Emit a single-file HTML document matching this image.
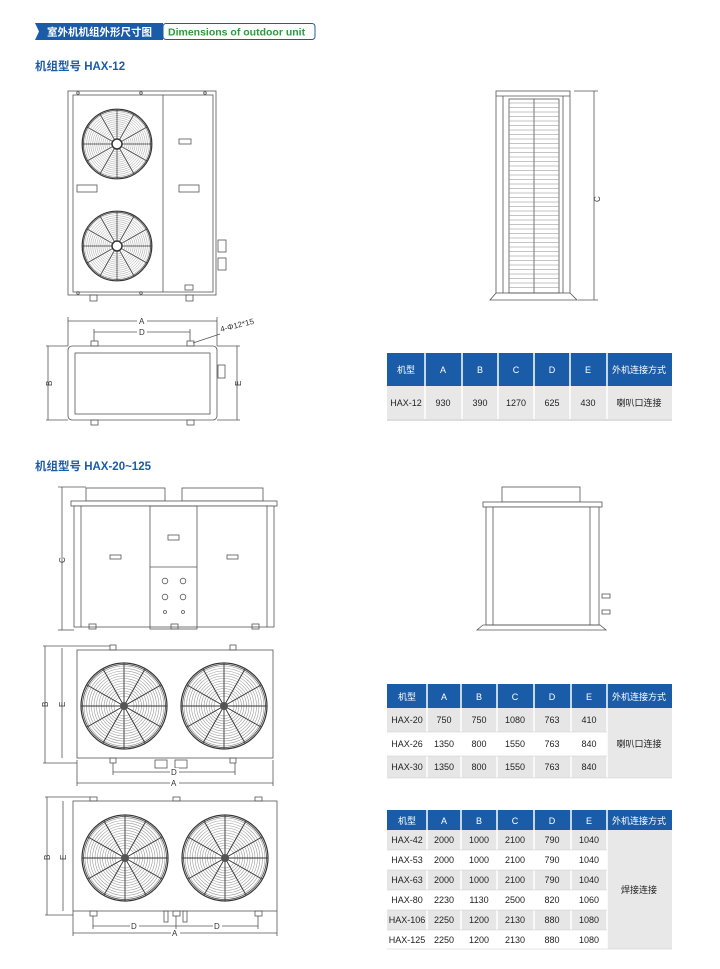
<!DOCTYPE html>
<html><head><meta charset="utf-8"><style>
html,body{margin:0;padding:0;background:#fff}
svg{display:block}
text{font-family:"Liberation Sans","Noto Sans CJK SC",sans-serif}
</style></head><body>
<svg width="720" height="969" viewBox="0 0 720 969" xmlns="http://www.w3.org/2000/svg">
<defs>
<g id="fan">
 <circle r="43" fill="#fff" stroke="#333" stroke-width="1.2" vector-effect="non-scaling-stroke"/>
 <g fill="none" stroke="#9a9a9a" stroke-width="0.6" vector-effect="non-scaling-stroke">
  <circle r="40"/><circle r="37.5"/><circle r="35"/><circle r="32.5"/><circle r="30"/><circle r="27.5"/><circle r="25"/><circle r="22.5"/><circle r="20"/><circle r="17.5"/><circle r="15"/><circle r="12.5"/><circle r="10"/>
 </g>
 <g stroke="#333" stroke-width="0.9" vector-effect="non-scaling-stroke">
  <line x1="0" y1="-43" x2="0" y2="43"/><line x1="-43" y1="0" x2="43" y2="0"/>
  <line x1="21" y1="-37" x2="-21" y2="37"/><line x1="-21" y1="-37" x2="21" y2="37"/>
  <line x1="37" y1="-21" x2="-37" y2="21"/><line x1="-37" y1="-21" x2="37" y2="21"/>
 </g>
 <circle r="41.5" fill="none" stroke="#444" stroke-width="0.8" vector-effect="non-scaling-stroke"/>
</g>
</defs>

<!-- header banner -->
<path d="M35 23 H163 V40 H35 L39 31.5 Z" fill="#1b5ca8"/>
<rect x="163" y="23.5" width="152" height="16" rx="3" fill="#fff" stroke="#1b5ca8" stroke-width="1"/>
<text x="47" y="35.5" font-size="10.5" fill="#fff" font-weight="bold">室外机机组外形尺寸图</text>
<text x="168" y="35.5" font-size="10.5" fill="#2e9a3a" font-weight="bold">Dimensions of outdoor unit</text>
<text x="35" y="70" font-size="11.5" fill="#1b5ca8" font-weight="bold">机组型号 HAX-12</text>
<text x="35" y="470" font-size="11.5" fill="#1b5ca8" font-weight="bold">机组型号 HAX-20~125</text>

<g fill="none" stroke="#555" stroke-width="0.8">
<!-- drawing 1 front -->
<rect x="68" y="91" width="148" height="204" fill="#fff"/>
<rect x="73" y="95" width="140" height="197"/>
<line x1="163" y1="95" x2="163" y2="292"/>
<rect x="77" y="185" width="20" height="7"/>
<rect x="179" y="185" width="20" height="7"/>
<rect x="179" y="139" width="12" height="5"/>
<rect x="185" y="285" width="8" height="5"/>
<rect x="90" y="295" width="7" height="6"/><rect x="186" y="295" width="7" height="6"/>
<circle cx="78" cy="93" r="1.3"/><circle cx="141" cy="93" r="1.3"/><circle cx="205" cy="93" r="1.3"/>
<circle cx="78" cy="293" r="1.3"/><circle cx="141" cy="293" r="1.3"/>
<rect x="218" y="240" width="8" height="12"/><rect x="218" y="258" width="8" height="12"/>
</g>
<use href="#fan" transform="translate(117,144) scale(0.81)"/>
<use href="#fan" transform="translate(117,246) scale(0.81)"/>
<circle cx="117" cy="144" r="5" fill="#fff" stroke="#333" stroke-width="1.5"/>
<circle cx="117" cy="246" r="5" fill="#fff" stroke="#333" stroke-width="1.5"/>

<!-- drawing 1 top view -->
<g fill="none" stroke="#555" stroke-width="0.8">
<rect x="68" y="346" width="149" height="74" rx="4" fill="#fff"/>
<rect x="75" y="353" width="135" height="61"/>
<rect x="91" y="341" width="7" height="5"/><rect x="187" y="341" width="7" height="5"/>
<rect x="91" y="420" width="7" height="5"/><rect x="187" y="420" width="7" height="5"/>
<rect x="218" y="365" width="7" height="13"/>
<line x1="68" y1="321" x2="217" y2="321"/><line x1="68" y1="317" x2="68" y2="346"/><line x1="217" y1="317" x2="217" y2="346"/>
<line x1="94" y1="332" x2="190" y2="332"/><line x1="94" y1="329" x2="94" y2="341"/><line x1="190" y1="329" x2="190" y2="341"/>
<line x1="48" y1="346" x2="48" y2="420"/><line x1="46" y1="346" x2="68" y2="346"/><line x1="46" y1="420" x2="68" y2="420"/>
<line x1="237" y1="346" x2="237" y2="420"/><line x1="217" y1="346" x2="240" y2="346"/><line x1="217" y1="420" x2="240" y2="420"/>
<line x1="193" y1="343" x2="220" y2="334"/>
</g>
<g font-size="8" fill="#333">
<rect x="137" y="317" width="10" height="8" fill="#fff"/><text x="139" y="324">A</text>
<rect x="137" y="328" width="10" height="8" fill="#fff"/><text x="139" y="335">D</text>
<text x="221" y="332" transform="rotate(-14 221 332)">4-Φ12*15</text>
<text x="52" y="386" transform="rotate(-90 52 386)">B</text>
<text x="241" y="386" transform="rotate(-90 241 386)">E</text>
</g>

<!-- side view 1 -->
<g fill="none" stroke="#555" stroke-width="0.8">
<rect x="496" y="91" width="74" height="202" fill="#fff"/>
<line x1="496" y1="96" x2="570" y2="96"/>
<line x1="503" y1="96" x2="503" y2="293"/><line x1="563" y1="96" x2="563" y2="293"/>
<rect x="509" y="99" width="50" height="194"/>
<line x1="534" y1="99" x2="534" y2="293"/>
<path d="M496 293 L490 300 H577 L570 293"/>
<line x1="574" y1="91" x2="598" y2="91"/><line x1="578" y1="300" x2="598" y2="300"/>
<line x1="594" y1="91" x2="594" y2="300"/>
</g>
<g stroke="#888" stroke-width="0.5" id="louv">
<line x1="509" y1="103" x2="559" y2="103"/><line x1="509" y1="107.5" x2="559" y2="107.5"/><line x1="509" y1="112" x2="559" y2="112"/><line x1="509" y1="116.5" x2="559" y2="116.5"/><line x1="509" y1="121" x2="559" y2="121"/><line x1="509" y1="125.5" x2="559" y2="125.5"/><line x1="509" y1="130" x2="559" y2="130"/><line x1="509" y1="134.5" x2="559" y2="134.5"/><line x1="509" y1="139" x2="559" y2="139"/><line x1="509" y1="143.5" x2="559" y2="143.5"/><line x1="509" y1="148" x2="559" y2="148"/><line x1="509" y1="152.5" x2="559" y2="152.5"/><line x1="509" y1="157" x2="559" y2="157"/><line x1="509" y1="161.5" x2="559" y2="161.5"/><line x1="509" y1="166" x2="559" y2="166"/><line x1="509" y1="170.5" x2="559" y2="170.5"/><line x1="509" y1="175" x2="559" y2="175"/><line x1="509" y1="179.5" x2="559" y2="179.5"/><line x1="509" y1="184" x2="559" y2="184"/><line x1="509" y1="188.5" x2="559" y2="188.5"/><line x1="509" y1="193" x2="559" y2="193"/><line x1="509" y1="197.5" x2="559" y2="197.5"/><line x1="509" y1="202" x2="559" y2="202"/><line x1="509" y1="206.5" x2="559" y2="206.5"/><line x1="509" y1="211" x2="559" y2="211"/><line x1="509" y1="215.5" x2="559" y2="215.5"/><line x1="509" y1="220" x2="559" y2="220"/><line x1="509" y1="224.5" x2="559" y2="224.5"/><line x1="509" y1="229" x2="559" y2="229"/><line x1="509" y1="233.5" x2="559" y2="233.5"/><line x1="509" y1="238" x2="559" y2="238"/><line x1="509" y1="242.5" x2="559" y2="242.5"/><line x1="509" y1="247" x2="559" y2="247"/><line x1="509" y1="251.5" x2="559" y2="251.5"/><line x1="509" y1="256" x2="559" y2="256"/><line x1="509" y1="260.5" x2="559" y2="260.5"/><line x1="509" y1="265" x2="559" y2="265"/><line x1="509" y1="269.5" x2="559" y2="269.5"/><line x1="509" y1="274" x2="559" y2="274"/><line x1="509" y1="278.5" x2="559" y2="278.5"/><line x1="509" y1="283" x2="559" y2="283"/><line x1="509" y1="287.5" x2="559" y2="287.5"/>
</g>
<text x="590" y="198" font-size="8" fill="#333" transform="rotate(-90 597 195)">C</text>

<!-- drawing 2 front -->
<g fill="none" stroke="#555" stroke-width="0.8">
<rect x="86" y="488" width="79" height="13" fill="#fff"/><rect x="182" y="488" width="81" height="13" fill="#fff"/>
<rect x="71" y="501" width="206" height="5" fill="#fff"/>
<rect x="74" y="506" width="200" height="121" fill="#fff"/>
<line x1="81" y1="506" x2="81" y2="627"/><line x1="267" y1="506" x2="267" y2="627"/>
<rect x="150" y="506" width="47" height="123"/>
<line x1="150" y1="567" x2="197" y2="567"/>
<rect x="110" y="555" width="11" height="4"/><rect x="168" y="535" width="11" height="5"/><rect x="227" y="555" width="11" height="4"/>
<circle cx="165" cy="581" r="2.8"/><circle cx="183" cy="581" r="2.8"/><circle cx="165" cy="597" r="2.8"/><circle cx="183" cy="597" r="2.8"/>
<circle cx="165" cy="612" r="1.5"/><circle cx="183" cy="612" r="1.5"/>
<rect x="89" y="624" width="7" height="5"/><rect x="171" y="624" width="7" height="5"/><rect x="252" y="624" width="7" height="5"/>
<line x1="62" y1="487" x2="62" y2="630"/><line x1="58" y1="487" x2="86" y2="487"/><line x1="58" y1="630" x2="74" y2="630"/>
</g>
<text x="58" y="562" font-size="8" fill="#333" transform="rotate(-90 62 559)">C</text>

<!-- drawing 2 top -->
<g fill="none" stroke="#555" stroke-width="0.8">
<rect x="77" y="650" width="196" height="108" fill="#fff"/>
<rect x="110" y="645" width="6" height="5"/><rect x="230" y="645" width="6" height="5"/>
<rect x="110" y="758" width="6" height="5"/><rect x="230" y="758" width="6" height="5"/>
<rect x="155" y="760" width="12" height="8"/><rect x="175" y="760" width="12" height="8"/>
<line x1="45" y1="646" x2="45" y2="763"/><line x1="43" y1="646" x2="110" y2="646"/><line x1="43" y1="763" x2="77" y2="763"/>
<line x1="62" y1="648" x2="62" y2="758"/>
<line x1="113" y1="772" x2="235" y2="772"/><line x1="113" y1="763" x2="113" y2="775"/><line x1="235" y1="763" x2="235" y2="775"/>
<line x1="77" y1="783" x2="273" y2="783"/><line x1="77" y1="760" x2="77" y2="786"/><line x1="273" y1="760" x2="273" y2="786"/>
</g>
<use href="#fan" transform="translate(124,706)"/>
<use href="#fan" transform="translate(224,706)"/>
<circle cx="124" cy="706" r="4" fill="#555"/><circle cx="224" cy="706" r="4" fill="#555"/>
<g font-size="8" fill="#333">
<text x="41" y="706" transform="rotate(-90 45 703)">B</text>
<text x="58" y="706" transform="rotate(-90 62 703)">E</text>
<rect x="170" y="768" width="9" height="8" fill="#fff"/><text x="171" y="775">D</text>
<rect x="170" y="779" width="9" height="8" fill="#fff"/><text x="171" y="786">A</text>
</g>

<!-- drawing 3 -->
<g fill="none" stroke="#555" stroke-width="0.8">
<rect x="73" y="801" width="204" height="110" fill="#fff"/>
<rect x="90" y="797" width="7" height="4"/><rect x="173" y="797" width="7" height="4"/><rect x="255" y="797" width="7" height="4"/>
<rect x="90" y="911" width="7" height="5"/><rect x="173" y="911" width="7" height="5"/><rect x="255" y="911" width="7" height="5"/>
<rect x="164" y="911" width="4" height="11"/><rect x="183" y="911" width="4" height="11"/>
<line x1="47" y1="797" x2="47" y2="915"/><line x1="45" y1="797" x2="90" y2="797"/><line x1="45" y1="915" x2="73" y2="915"/>
<line x1="63" y1="801" x2="63" y2="911"/>
<line x1="93" y1="926" x2="258" y2="926"/><line x1="93" y1="916" x2="93" y2="929"/><line x1="176" y1="916" x2="176" y2="929"/><line x1="258" y1="916" x2="258" y2="929"/>
<line x1="73" y1="933" x2="277" y2="933"/><line x1="73" y1="911" x2="73" y2="936"/><line x1="277" y1="911" x2="277" y2="936"/>
</g>
<use href="#fan" transform="translate(125,858)"/>
<use href="#fan" transform="translate(225,858)"/>
<circle cx="125" cy="858" r="4" fill="#555"/><circle cx="225" cy="858" r="4" fill="#555"/>
<g font-size="8" fill="#333">
<text x="43" y="859" transform="rotate(-90 47 856)">B</text>
<text x="59" y="859" transform="rotate(-90 63 856)">E</text>
<rect x="130" y="922" width="9" height="8" fill="#fff"/><text x="131" y="929">D</text>
<rect x="213" y="922" width="9" height="8" fill="#fff"/><text x="214" y="929">D</text>
<rect x="171" y="929" width="9" height="8" fill="#fff"/><text x="172" y="936">A</text>
</g>

<!-- side view 2 -->
<g fill="none" stroke="#555" stroke-width="0.8">
<rect x="502" y="487" width="78" height="15" fill="#fff"/>
<rect x="483" y="502" width="119" height="5" fill="#fff"/>
<rect x="486" y="507" width="113" height="118" fill="#fff"/>
<line x1="493" y1="507" x2="493" y2="625"/><line x1="590" y1="507" x2="590" y2="625"/>
<path d="M483 625 L477 630 H606 L600 625 Z"/>
<rect x="602" y="594" width="8" height="4"/><rect x="602" y="610" width="8" height="4"/>
</g>

<!-- tables -->
<g font-size="9" fill="#222" text-anchor="middle">
<!-- table1 -->
<rect x="387" y="353" width="285" height="33" fill="#1b5ca8"/>
<rect x="387" y="386" width="285" height="33" fill="#e8e8e8"/>
<g stroke="#fff" stroke-width="1.5">
<line x1="425" y1="353" x2="425" y2="419"/><line x1="462" y1="353" x2="462" y2="419"/><line x1="498" y1="353" x2="498" y2="419"/><line x1="534" y1="353" x2="534" y2="419"/><line x1="570" y1="353" x2="570" y2="419"/><line x1="607" y1="353" x2="607" y2="419"/>
</g>
<line x1="387" y1="420" x2="672" y2="420" stroke="#bbb"/>
<g fill="#fff"><text x="406" y="373">机型</text><text x="443" y="373">A</text><text x="480" y="373">B</text><text x="516" y="373">C</text><text x="552" y="373">D</text><text x="588" y="373">E</text><text x="639" y="373">外机连接方式</text></g>
<text x="406" y="406">HAX-12</text><text x="443" y="406">930</text><text x="480" y="406">390</text><text x="516" y="406">1270</text><text x="552" y="406">625</text><text x="588" y="406">430</text><text x="639" y="406">喇叭口连接</text>

<!-- table2 -->
<rect x="387" y="684" width="285" height="24" fill="#1b5ca8"/>
<rect x="387" y="708" width="220" height="24" fill="#e6e6e6"/>
<rect x="387" y="756" width="220" height="22" fill="#e6e6e6"/>
<rect x="607" y="708" width="65" height="70" fill="#e8e8e8"/>
<g stroke="#fff" stroke-width="1.5">
<line x1="427" y1="684" x2="427" y2="778"/><line x1="461" y1="684" x2="461" y2="778"/><line x1="497" y1="684" x2="497" y2="778"/><line x1="534" y1="684" x2="534" y2="778"/><line x1="571" y1="684" x2="571" y2="778"/><line x1="607" y1="684" x2="607" y2="778"/>
</g>
<g stroke="#ccc" stroke-width="0.6"><line x1="387" y1="732" x2="607" y2="732"/><line x1="387" y1="756" x2="607" y2="756"/><line x1="387" y1="778" x2="672" y2="778"/></g>
<g fill="#fff"><text x="407" y="700">机型</text><text x="444" y="700">A</text><text x="479" y="700">B</text><text x="515" y="700">C</text><text x="552" y="700">D</text><text x="589" y="700">E</text><text x="639" y="700">外机连接方式</text></g>
<text x="407" y="723">HAX-20</text><text x="444" y="723">750</text><text x="479" y="723">750</text><text x="515" y="723">1080</text><text x="552" y="723">763</text><text x="589" y="723">410</text>
<text x="407" y="747">HAX-26</text><text x="444" y="747">1350</text><text x="479" y="747">800</text><text x="515" y="747">1550</text><text x="552" y="747">763</text><text x="589" y="747">840</text>
<text x="407" y="770">HAX-30</text><text x="444" y="770">1350</text><text x="479" y="770">800</text><text x="515" y="770">1550</text><text x="552" y="770">763</text><text x="589" y="770">840</text>
<text x="639" y="747">喇叭口连接</text>

<!-- table3 -->
<rect x="387" y="810" width="285" height="20" fill="#1b5ca8"/>
<rect x="387" y="830" width="220" height="20" fill="#e6e6e6"/>
<rect x="387" y="870" width="220" height="20" fill="#e6e6e6"/>
<rect x="387" y="910" width="220" height="20" fill="#e6e6e6"/>
<rect x="607" y="830" width="65" height="119" fill="#e8e8e8"/>
<g stroke="#fff" stroke-width="1.5">
<line x1="427" y1="810" x2="427" y2="949"/><line x1="461" y1="810" x2="461" y2="949"/><line x1="497" y1="810" x2="497" y2="949"/><line x1="534" y1="810" x2="534" y2="949"/><line x1="571" y1="810" x2="571" y2="949"/><line x1="607" y1="810" x2="607" y2="949"/>
</g>
<g stroke="#ccc" stroke-width="0.6"><line x1="387" y1="850" x2="607" y2="850"/><line x1="387" y1="870" x2="607" y2="870"/><line x1="387" y1="890" x2="607" y2="890"/><line x1="387" y1="910" x2="607" y2="910"/><line x1="387" y1="930" x2="607" y2="930"/><line x1="387" y1="949" x2="672" y2="949"/></g>
<g fill="#fff"><text x="407" y="824">机型</text><text x="444" y="824">A</text><text x="479" y="824">B</text><text x="515" y="824">C</text><text x="552" y="824">D</text><text x="589" y="824">E</text><text x="639" y="824">外机连接方式</text></g>
<text x="407" y="843">HAX-42</text><text x="444" y="843">2000</text><text x="479" y="843">1000</text><text x="515" y="843">2100</text><text x="552" y="843">790</text><text x="589" y="843">1040</text>
<text x="407" y="863">HAX-53</text><text x="444" y="863">2000</text><text x="479" y="863">1000</text><text x="515" y="863">2100</text><text x="552" y="863">790</text><text x="589" y="863">1040</text>
<text x="407" y="883">HAX-63</text><text x="444" y="883">2000</text><text x="479" y="883">1000</text><text x="515" y="883">2100</text><text x="552" y="883">790</text><text x="589" y="883">1040</text>
<text x="407" y="903">HAX-80</text><text x="444" y="903">2230</text><text x="479" y="903">1130</text><text x="515" y="903">2500</text><text x="552" y="903">820</text><text x="589" y="903">1060</text>
<text x="407" y="923">HAX-106</text><text x="444" y="923">2250</text><text x="479" y="923">1200</text><text x="515" y="923">2130</text><text x="552" y="923">880</text><text x="589" y="923">1080</text>
<text x="407" y="943">HAX-125</text><text x="444" y="943">2250</text><text x="479" y="943">1200</text><text x="515" y="943">2130</text><text x="552" y="943">880</text><text x="589" y="943">1080</text>
<text x="639" y="893">焊接连接</text>
</g>
</svg>
</body></html>
